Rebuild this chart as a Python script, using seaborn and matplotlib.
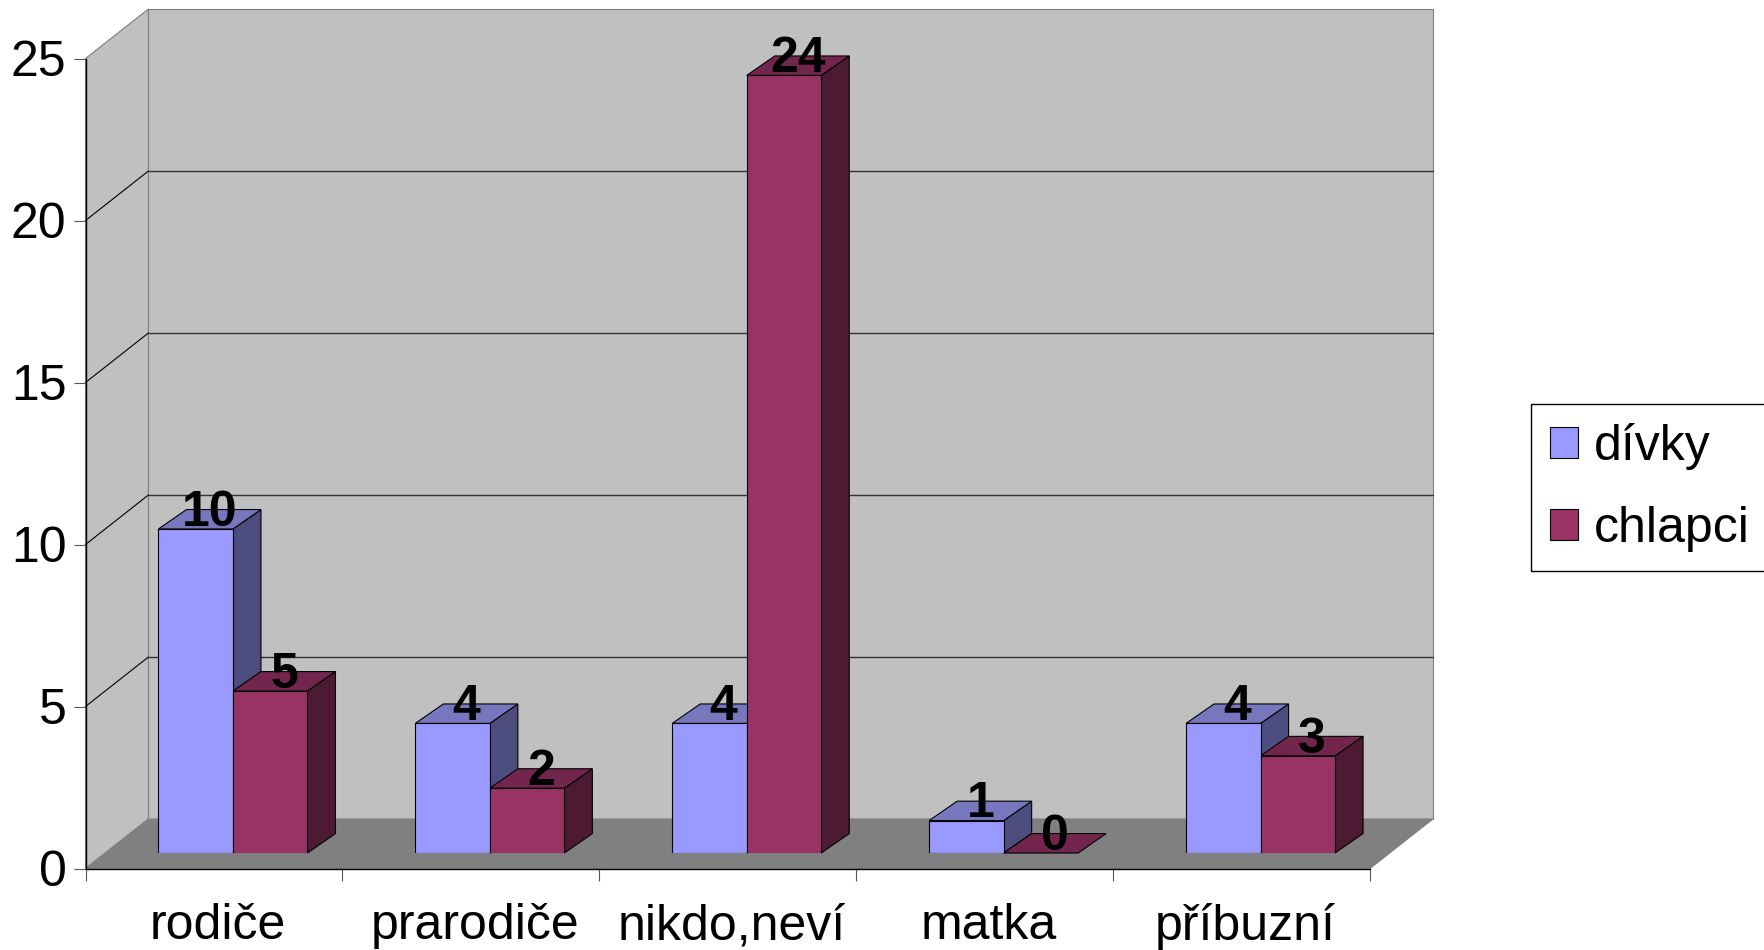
#!/usr/bin/env python3
"""Czech survey chart in the old Excel 3D column look, built on a seaborn barplot."""

import pandas as pd
import matplotlib.pyplot as plt
from matplotlib.patches import Polygon
import seaborn as sns

categories = ['rodiče', 'prarodiče', 'nikdo,neví', 'matka', 'příbuzní']
divky = [10, 4, 4, 1, 4]
chlapci = [5, 2, 24, 0, 3]
series_names = ['dívky', 'chlapci']
y_ticks = [0, 5, 10, 15, 20, 25]

# Colours: front, top, side
COLORS = {
    'dívky': ('#9999FF', '#7777BD', '#4D4D80'),
    'chlapci': ('#993366', '#73264D', '#4D1A33'),
}
WALL = '#C0C0C0'
FLOOR = '#808080'
FONT_SIZE = 36

# Figure geometry in pixels, then the fake depth in data units
W, H = 1764, 950
LEFT, RIGHT, Y0, Y25 = 85.5, 1370, 868.5, 58.5
SHIFT_X, SHIFT_Y = 19, 15.5
WALL_DX, WALL_DY = 0.245, 1.528
BAR_DX, BAR_DY = 0.109, 0.6
LABEL_NUDGE = 0.015

sns.set_style('white')
plt.rcParams['font.family'] = ['Liberation Sans']


def face(ax, points, color, z, edge='black', lw=0.8):
    ax.add_patch(Polygon(points, closed=True, facecolor=color, edgecolor=edge,
                         linewidth=lw, zorder=z, clip_on=False))


def draw_walls(ax, xmin, xmax, ymax):
    """Back wall, side wall, floor and their gridlines."""
    face(ax, [(xmin, 0), (xmin, ymax), (xmin + WALL_DX, ymax + WALL_DY),
              (xmin + WALL_DX, WALL_DY)], WALL, 1, edge='#808080')
    face(ax, [(xmin + WALL_DX, WALL_DY), (xmin + WALL_DX, ymax + WALL_DY),
              (xmax + WALL_DX, ymax + WALL_DY), (xmax + WALL_DX, WALL_DY)], WALL, 1, edge='#808080')
    face(ax, [(xmin, 0), (xmax, 0), (xmax + WALL_DX, WALL_DY),
              (xmin + WALL_DX, WALL_DY)], FLOOR, 1, edge='#808080')
    for tick in y_ticks[1:-1]:
        ax.plot([xmin, xmin + WALL_DX], [tick, tick + WALL_DY], color='black', lw=0.8, zorder=2, clip_on=False)
        ax.plot([xmin + WALL_DX, xmax + WALL_DX], [tick + WALL_DY] * 2, color='#333333', lw=1.0, zorder=2, clip_on=False)


def main():
    df = pd.DataFrame({
        'category': categories * 2,
        'series': [series_names[0]] * len(categories) + [series_names[1]] * len(categories),
        'value': divky + chlapci,
    })

    fig = plt.figure(figsize=(W / 100, H / 100), dpi=100)
    rect = [LEFT / W, 1 - Y0 / H, (RIGHT - LEFT) / W, (Y0 - Y25) / H]
    ax = fig.add_axes(rect)
    ax_bars = fig.add_axes([rect[0] + SHIFT_X / W, rect[1] + SHIFT_Y / H, rect[2], rect[3]])

    xlim = (-0.5, len(categories) - 0.5)
    ylim = (0, 25)

    # Frame, walls and axis
    ax.set_xlim(*xlim)
    ax.set_ylim(*ylim)
    ax.patch.set_visible(False)
    draw_walls(ax, xlim[0], xlim[1], ylim[1])
    sns.despine(ax=ax, top=True, right=True)
    for side in ['left', 'bottom']:
        ax.spines[side].set_color('black')
        ax.spines[side].set_linewidth(1.0)
        ax.spines[side].set_zorder(4)

    ax.set_yticks(y_ticks)
    ax.set_xticks([x + LABEL_NUDGE for x in range(len(categories))], categories)
    ax.set_xticks([x + 0.5 for x in range(-1, len(categories))], minor=True)
    ax.tick_params(axis='y', which='major', left=True, length=8.6, width=0.8, color='#555555',
                   pad=5, labelsize=FONT_SIZE, labelcolor='black')
    ax.tick_params(axis='x', which='major', bottom=False, length=0, pad=25,
                   labelsize=FONT_SIZE, labelcolor='black')
    ax.tick_params(axis='x', which='minor', bottom=True, length=8.6, width=0.8, color='#555555')

    # Columns
    sns.barplot(data=df, x='category', y='value', hue='series', order=categories,
                hue_order=series_names, palette={k: v[0] for k, v in COLORS.items()},
                width=0.58, gap=0, saturation=1, errorbar=None, edgecolor='black',
                linewidth=0.8, ax=ax_bars)
    ax_bars.set_xlim(*xlim)
    ax_bars.set_ylim(*ylim)

    # Depth of each column, left to right so the neighbour covers what it should
    bars = []
    for name, container in zip(series_names, ax_bars.containers):
        bars += [(bar, name) for bar in container]
    bars.sort(key=lambda item: item[0].get_x())

    for bar, name in bars:
        x0, x1 = bar.get_x(), bar.get_x() + bar.get_width()
        top = bar.get_height()
        _, top_color, side_color = COLORS[name]
        bar.set_zorder(3)
        if top > 0:
            face(ax_bars, [(x1, 0), (x1, top), (x1 + BAR_DX, top + BAR_DY), (x1 + BAR_DX, BAR_DY)], side_color, 2)
        face(ax_bars, [(x0, top), (x1, top), (x1 + BAR_DX, top + BAR_DY), (x0 + BAR_DX, top + BAR_DY)], top_color, 2)
    for bar, name in bars:
        ax_bars.text(bar.get_x() + bar.get_width() / 2 + BAR_DX / 2, bar.get_height() + 0.1,
                     f'{bar.get_height():.0f}', ha='center', va='baseline', fontsize=FONT_SIZE,
                     fontweight='bold', color='black', zorder=6)

    sns.move_legend(ax_bars, 'upper left', bbox_to_anchor=(1531 / W, 1 - 404 / H),
                    bbox_transform=fig.transFigure, title=None, fontsize=FONT_SIZE,
                    frameon=True, fancybox=False, framealpha=1, edgecolor='black',
                    borderaxespad=0, borderpad=0.38, handlelength=0.56, handleheight=0.56,
                    handletextpad=0.32, labelspacing=0.72, labelcolor='black')
    ax_bars.get_legend().get_frame().set_linewidth(1.0)

    ax_bars.set_xlabel('')
    ax_bars.set_ylabel('')
    ax_bars.patch.set_visible(False)
    for spine in ax_bars.spines.values():
        spine.set_visible(False)
    ax_bars.set_xticks([])
    ax_bars.set_yticks([])

    ax.set_xlabel('')
    ax.set_ylabel('')

    fig.savefig('out.png', dpi=100, facecolor='white')
    plt.close(fig)


if __name__ == '__main__':
    main()
